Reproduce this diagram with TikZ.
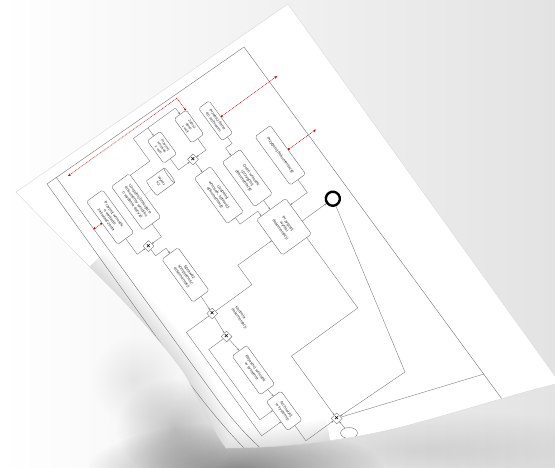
\documentclass[tikz,border=0pt]{standalone}
\usepackage{fontspec}
\setmainfont{Liberation Sans}
\usetikzlibrary{shapes.geometric,arrows.meta,calc,fadings}
\tikzfading[name=softblob, inner color=transparent!0, outer color=transparent!100]
\begin{document}
\begin{tikzpicture}[x=1pt,y=1pt,
  task/.style={draw=black!55, line width=0.4pt, rounded corners=1.8pt, fill=white, align=center,
    font=\fontsize{4.1}{4.7}\selectfont, text=black!80, inner sep=0pt, transform shape},
  small/.style={font=\fontsize{3.6}{4.1}\selectfont},
  gw/.style={diamond, draw=black!55, line width=0.4pt, fill=white, minimum size=11pt, inner sep=0pt,
    transform shape, rotate=54, font=\fontsize{7}{7}\selectfont\bfseries},
  store/.style={cylinder, shape border rotate=90, aspect=0.25, draw=black!55, line width=0.4pt, fill=white,
    minimum width=18pt, minimum height=24pt, inner sep=0pt, align=center, transform shape,
    font=\fontsize{3.6}{4.1}\selectfont, text=black!80},
  lbl/.style={align=left, font=\fontsize{4}{4.6}\selectfont, text=black!80, inner sep=0pt, transform shape},
  endev/.style={circle, draw=black, line width=2.4pt, minimum size=14pt, inner sep=0pt, fill=white, transform shape},
  flow/.style={draw=black!50, line width=0.4pt, -{Stealth[length=2.2pt,width=1.8pt]}},
  plain/.style={draw=black!50, line width=0.4pt},
  frame/.style={draw=black!50, line width=0.45pt},
  msg/.style={draw=red!80!black, line width=0.55pt, dash pattern=on 0.8pt off 0.9pt,
    {Circle[length=1.9pt]}-{Stealth[length=3pt,width=2.6pt]}},
  assoc/.style={draw=black!50, line width=0.35pt, dash pattern=on 0.6pt off 0.8pt}
]
\useasboundingbox (0,0) rectangle (555,-467);
% background
\shade[left color=white, right color=black!11] (0,0) rectangle (555,-467);
\fill[black, opacity=0.45, path fading=softblob] (235,-472) circle[x radius=150pt, y radius=50pt];
\fill[black, opacity=0.22, path fading=softblob] (175,-428) circle[x radius=60pt, y radius=50pt];
\fill[black, opacity=0.08, path fading=softblob] (135,-380) circle[x radius=45pt, y radius=45pt];
\fill[black, opacity=0.1, path fading=softblob] (430,-450) circle[x radius=220pt, y radius=40pt];
% paper
\def\paperpath{(16,-192) -- (288,-4) -- (560,-383) .. controls (520,-392) and (440,-418) .. (389,-430) .. controls (340,-441) and (280,-448) .. (226,-448) .. controls (212,-430) and (196,-392) .. (184,-373) .. controls (170,-352) and (135,-312) .. (106,-283) .. controls (80,-257) and (38,-215) .. (16,-192) -- cycle}
\fill[white] \paperpath;
\begin{scope}
\clip \paperpath;
\foreach \w in {4,8,...,44} {
  \draw[line width=\w pt, black, opacity=0.012] (90,-266) .. controls (120,-296) and (160,-340) .. (184,-373) .. controls (196,-392) and (212,-430) .. (226,-448) .. controls (270,-448) and (300,-446) .. (330,-440);
}
% frame lines
\draw[frame] (47,-184) -- (244,-47) -- (510,-410);
\draw[frame] (56,-177) -- (215,-396) .. controls (232,-420) and (250,-440) .. (272,-458);
\draw[frame] (47,-184) -- (180,-370) .. controls (205,-405) and (230,-435) .. (258,-462);
% diagram in the rotated frame
\begin{scope}[shift={(62,-173)}, rotate=-54]
  \node[task, minimum width=40pt, minimum height=13pt] (A) at (48,155) {Przekaż dane\\do archiwum};
  \node[task, minimum width=60pt, minimum height=19pt] (B) at (114,187) {Przygotuj dokumentację};
  \node[task, minimum width=55pt, minimum height=22pt] (C) at (113,147) {Oceń wniosek\\i przygotuj\\dokumentację};
  \node[task, minimum width=56pt, minimum height=20pt] (D) at (110,114) {Uzupełnij\\wniosek, sprawdź\\dokumentację};
  \node[task, small, minimum width=28pt, minimum height=16pt] (E) at (38,96) {Przyjmij\\wniosek\\z woli};
  \node[task, small, minimum width=30pt, minimum height=15pt] (F) at (37,130) {Zapisz\\dane\\z woli};
  \node[store] (W) at (65,74) {Wykaz\\KZ};
  \node[task, minimum width=54pt, minimum height=22pt] (G) at (67,43) {Uzupełnij brakujące\\dokumenty wniosku\\o wydanie decyzji};
  \node[task, minimum width=53pt, minimum height=20pt] (H2) at (64,13) {Przyjmij wniosek\\o wydanie\\zaświadczenia};
  \node[gw] (Gt) at (66,114) {×};
  \node[gw] (Gm) at (110,27) {×};
  \node[task, minimum width=53pt, minimum height=20pt] (J) at (155,40) {Sprawdź\\kompletność\\dokumentacji};
  \node[gw] (G1) at (202,39) {×};
  \node[gw] (G2) at (229,37) {×};
  \node[lbl] (L) at (222,60) {Kontrola\\dokumentacji};
  \node[task, minimum width=48pt, minimum height=18pt] (H) at (272,39) {Rejestruj wniosek\\w systemie};
  \node[task, minimum width=36pt, minimum height=18pt] (I) at (323,40) {Archiwizuj\\w systemie};
  \node[gw] (G3) at (360,78) {×};
  \node[task, minimum width=44pt, minimum height=36pt] (K) at (174,148) {Przygotuj\\wyniki\\dokumentacji};
  \node[endev] (O) at (180,204) {};
  % sequence flows
  \draw[flow] (A.east) -- (76,155) -- (76,147) -- (C.west);
  \draw[flow] (E.east) -- (66,96) -- (Gt);
  \draw[flow] (F.east) -- (66,130) -- (Gt);
  \draw[flow] (Gt) -- (D.west);
  \draw[plain] (42,54) -- (42,78) -- (14,78) -- (14,130);
  \draw[flow] (14,130) -- (F.west);
  \draw[flow] (14,96) -- (E.west);
  \draw[assoc] (W) -- (G);
  \draw[flow] (H2.east) -- (110,13) -- (Gm);
  \draw[flow] (G.east) -- (110,43) -- (Gm);
  \draw[flow] (Gm) -- (122,27) -- (122,40) -- (J.west);
  \draw[flow] (J.east) -- (G1);
  \draw[flow] (G1) -- (G2);
  \draw[flow] (G2) -- (H.west);
  \draw[flow] (H.east) -- (I.west);
  \draw[flow] (I.east) -- (360,40) -- (G3);
  \draw[flow] (G1) -- (202,7) -- (330,7) -- (330,31);
  \draw[flow] (G2) -- (229,15) -- (316,15) -- (316,31);
  \draw[flow] (G1) -- (202,88) -- (178,88) -- (178,130);
  \draw[flow] (C.east) -- (152,147);
  \draw[flow] (D.east) -- (146,114) -- (146,136) -- (152,136);
  \draw[flow] (B.east) -- (160,187) -- (160,166);
  \draw[flow] (180,166) -- (O);
  \draw[flow] (196,160) -- (283,160) -- (283,78) -- (G3);
  % message flows
  \draw[msg] (A.north) -- (48,231);
  \draw[msg] (B.north) -- (114,231);
  \draw[msg] (22,137) -- (7,137) -- (6,3);
  \draw[msg] (H2.south) -- (64,-8);
\end{scope}
\node[ellipse, draw=black!55, line width=0.4pt, fill=white, minimum width=17pt, minimum height=11pt, inner sep=0pt] (S) at (349,-433) {};
\draw[flow] (O) -- (405,-372) -- (G3);
\draw[plain] (G3) -- (484,-374);
\draw[flow] (S) -- (G3);
\end{scope}
\draw[black!15, line width=0.4pt] \paperpath;
\end{tikzpicture}
\end{document}
